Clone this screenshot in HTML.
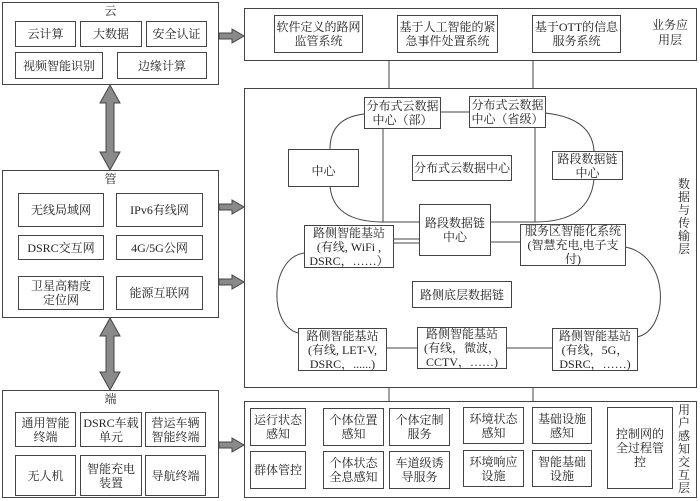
<!DOCTYPE html>
<html><head><meta charset="utf-8"><style>
body{margin:0;width:700px;height:501px;background:#fff;position:relative;overflow:hidden;font-family:"Liberation Serif","Noto Serif CJK SC",serif;color:#222}
.b{position:absolute;box-sizing:border-box;border:1px solid #444;display:flex;align-items:center;justify-content:center;text-align:center;font-size:12px;line-height:14px;background:#fff;white-space:nowrap}
.o{position:absolute;box-sizing:border-box;border:1px solid #444}
.t{position:absolute;font-size:12px;line-height:15px;text-align:center;white-space:nowrap}
.v{position:absolute;font-size:12px;line-height:13px;width:14px;text-align:center}
svg{position:absolute;left:0;top:0}
</style></head><body>
<div class="o" style="left:2px;top:2px;width:217px;height:83px"></div>
<div class="t" style="left:2px;top:4px;width:217px">云</div>
<div class="b" style="left:15px;top:21px;width:61px;height:26px">云计算</div>
<div class="b" style="left:80px;top:21px;width:62px;height:26px">大数据</div>
<div class="b" style="left:146px;top:21px;width:61px;height:26px">安全认证</div>
<div class="b" style="left:15px;top:52px;width:88px;height:27px">视频智能识别</div>
<div class="b" style="left:117px;top:52px;width:90px;height:27px">边缘计算</div>

<div class="o" style="left:2px;top:170px;width:217px;height:148px"></div>
<div class="t" style="left:2px;top:172px;width:217px">管</div>
<div class="b" style="left:18px;top:193px;width:86px;height:34px">无线局域网</div>
<div class="b" style="left:116px;top:193px;width:87px;height:34px">IPv6有线网</div>
<div class="b" style="left:18px;top:235px;width:86px;height:25px">DSRC交互网</div>
<div class="b" style="left:116px;top:235px;width:87px;height:25px">4G/5G公网</div>
<div class="b" style="left:18px;top:276px;width:86px;height:34px">卫星高精度<br>定位网</div>
<div class="b" style="left:116px;top:276px;width:87px;height:34px">能源互联网</div>

<div class="o" style="left:2px;top:390px;width:217px;height:108px"></div>
<div class="t" style="left:2px;top:392px;width:217px">端</div>
<div class="b" style="left:15px;top:412px;width:61px;height:35px">通用智能<br>终端</div>
<div class="b" style="left:80px;top:412px;width:62px;height:35px">DSRC车载<br>单元</div>
<div class="b" style="left:145px;top:412px;width:61px;height:35px">营运车辆<br>智能终端</div>
<div class="b" style="left:15px;top:455px;width:61px;height:41px">无人机</div>
<div class="b" style="left:80px;top:455px;width:62px;height:41px">智能充电<br>装置</div>
<div class="b" style="left:145px;top:455px;width:61px;height:41px">导航终端</div>

<div class="o" style="left:244px;top:8px;width:453px;height:53px"></div>
<div class="b" style="left:274px;top:15px;width:89px;height:38px">软件定义的路网<br>监管系统</div>
<div class="b" style="left:397px;top:15px;width:101px;height:38px">基于人工智能的紧<br>急事件处置系统</div>
<div class="b" style="left:532px;top:15px;width:89px;height:38px">基于OTT的信息<br>服务系统</div>
<div class="t" style="left:645px;top:18px;width:50px">业务应<br>用层</div>

<div class="o" style="left:244px;top:88px;width:453px;height:300px"></div>
<svg width="700" height="501" fill="none" stroke="#444" stroke-width="1">
<line x1="389" y1="61" x2="389" y2="88"/><line x1="533" y1="61" x2="533" y2="88"/>
<line x1="389" y1="388" x2="389" y2="401"/><line x1="533" y1="388" x2="533" y2="401"/>
<line x1="440" y1="112" x2="469" y2="112"/>
<line x1="383" y1="129" x2="383" y2="222"/><line x1="535" y1="128" x2="535" y2="222"/>
<path d="M364,114 Q330,118 330,149"/>
<path d="M330,186 Q333,222 383,222 L419,222"/>
<path d="M545,113 Q592,118 594,151"/>
<path d="M594,179 Q590,222 535,222 L490,222"/>
<line x1="393" y1="239" x2="419" y2="239"/><line x1="393" y1="243" x2="419" y2="243"/>
<line x1="490" y1="242" x2="520" y2="242"/>
<path d="M304,253 C270,258 268,325 298,333"/>
<path d="M625,247 C670,255 670,330 637,337"/>
<line x1="386" y1="348" x2="417" y2="348"/><line x1="506" y1="348" x2="552" y2="348"/>
<g fill="#8a8a8a" stroke="#444">
<polygon points="219,33 232,33 232,29 244,36 232,43 232,39 219,39"/>
<polygon points="219,204 232,204 232,200 244,207 232,214 232,210 219,210"/>
<polygon points="219,279 232,279 232,275 244,282 232,289 232,285 219,285"/>
<polygon points="219,442 232,442 232,438 244,445 232,452 232,448 219,448"/>
<polygon points="110,85 120,103 114,103 114,152 120,152 110,170 100,152 106,152 106,103 100,103"/>
<polygon points="110,318 120,336 114,336 114,372 120,372 110,390 100,372 106,372 106,336 100,336"/>
</g>
</svg>
<div class="b" style="left:364px;top:97px;width:77px;height:32px">分布式云数据<br>中心（部）</div>
<div class="b" style="left:469px;top:96px;width:77px;height:32px">分布式云数据<br>中心（省级）</div>
<div class="b" style="left:288px;top:149px;width:71px;height:38px;padding-top:6px">中心</div>
<div class="b" style="left:412px;top:155px;width:100px;height:26px">分布式云数据中心</div>
<div class="b" style="left:552px;top:151px;width:71px;height:29px">路段数据链<br>中心</div>
<div class="b" style="left:419px;top:204px;width:72px;height:52px">路段数据链<br>中心</div>
<div class="b" style="left:304px;top:225px;width:90px;height:43px">路侧智能基站<br>(有线, WiFi ,<br>DSRC，……）</div>
<div class="b" style="left:520px;top:224px;width:106px;height:42px">服务区智能化系统<br>(智慧充电,电子支<br>付)</div>
<div class="b" style="left:412px;top:281px;width:100px;height:27px">路侧底层数据链</div>
<div class="b" style="left:298px;top:328px;width:89px;height:43px">路侧智能基站<br>(有线, LET-V,<br>DSRC，......)</div>
<div class="b" style="left:417px;top:327px;width:90px;height:42px">路侧智能基站<br>(有线，微波，<br>CCTV，……)</div>
<div class="b" style="left:552px;top:328px;width:86px;height:43px">路侧智能基站<br>(有线，5G，<br>DSRC，……)</div>
<div class="v" style="left:677px;top:178px">数据与传输层</div>

<div class="o" style="left:244px;top:401px;width:453px;height:97px"></div>
<div class="b" style="left:250px;top:408px;width:56px;height:38px">运行状态<br>感知</div>
<div class="b" style="left:250px;top:451px;width:56px;height:38px">群体管控</div>
<div class="b" style="left:323px;top:408px;width:61px;height:38px">个体位置<br>感知</div>
<div class="b" style="left:323px;top:451px;width:61px;height:38px">个体状态<br>全息感知</div>
<div class="b" style="left:389px;top:408px;width:61px;height:38px">个体定制<br>服务</div>
<div class="b" style="left:389px;top:451px;width:61px;height:38px">车道级诱<br>导服务</div>
<div class="b" style="left:463px;top:407px;width:61px;height:37px">环境状态<br>感知</div>
<div class="b" style="left:463px;top:450px;width:61px;height:37px">环境响应<br>设施</div>
<div class="b" style="left:532px;top:407px;width:60px;height:37px">基础设施<br>感知</div>
<div class="b" style="left:532px;top:450px;width:60px;height:37px">智能基础<br>设施</div>
<div class="b" style="left:607px;top:407px;width:66px;height:82px">控制网的<br>全过程管<br>控</div>
<div class="v" style="left:677px;top:404px;line-height:13px">用户感知交互层</div>
</body></html>
